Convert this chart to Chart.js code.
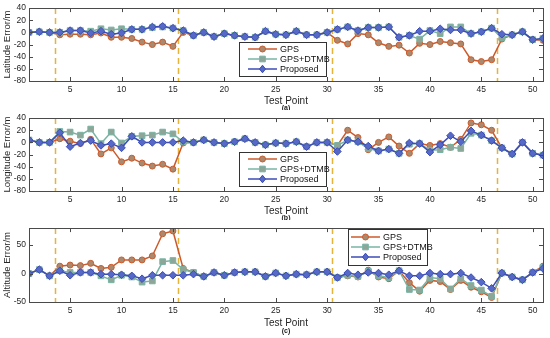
<!DOCTYPE html>
<html><head><meta charset="utf-8">
<script src="https://cdn.jsdelivr.net/npm/chart.js@4.4.1/dist/chart.umd.min.js"></script>
<style>
html,body{margin:0;padding:0;background:#fff;width:550px;height:338px;overflow:hidden}
canvas{position:absolute;left:0}
</style></head><body>
<canvas id="c1" width="550" height="110" style="top:0;width:550px;height:110px"></canvas>
<canvas id="c2" width="550" height="110" style="top:110px;width:550px;height:110px"></canvas>
<canvas id="c3" width="550" height="118" style="top:220px;width:550px;height:118px"></canvas>
<script>
// ---------------- data ----------------
const testPoints = [1,2,3,4,5,6,7,8,9,10,11,12,13,14,15,16,17,18,19,20,21,22,23,24,25,26,27,28,29,30,31,32,33,34,35,36,37,38,39,40,41,42,43,44,45,46,47,48,49,50,51];
const xTickValues = [5,10,15,20,25,30,35,40,45,50];
const segmentBreaks = [3.5, 15.5, 30.5, 46.5];
const seriesNames = ['GPS', 'GPS+DTMB', 'Proposed'];

const latGPS  = [0,1,0,-4,-3,-3,-4,-1,-8,-8,-10,-16,-20,-16,-23,0,-5,0,-7,-2,-5,-7,-8,2,-3,-4,2,-4,-4,0,-13,-19,-2,-4,-17,-23,-21,-34,-18,-20,-15,-17,-19,-45,-48,-45,-11,-4,1,-12,-13];
const latDTMB = [0,1,0,0,3,3,2,6,4,6,5,5,8,9,7,3,-5,0,-7,-2,-5,-7,-8,2,-3,-4,2,-4,-4,0,5,9,3,8,8,9,-8,-5,-11,3,-2,9,9,-2,1,7,-9,-4,1,-12,-10];
const latProp = [0,1,0,0,3,3,-1,2,-3,-1,5,5,9,10,7,3,-5,0,-7,-2,-5,-7,-8,2,-3,-4,2,-4,-4,0,5,9,3,8,8,9,-8,-5,2,2,6,4,4,-2,1,7,-3,-4,1,-12,-10];
const latTicks = [-80,-60,-40,-20,0,20,40];

const lonGPS  = [4,0,0,6,2,-2,5,-19,-9,-32,-26,-34,-39,-36,-44,-1,0,4,0,-2,1,6,0,-4,-1,-2,1,-7,0,0,-5,20,8,-12,0,9,-6,-18,-2,-5,-2,-8,5,32,29,20,-9,-19,0,-18,-21];
const lonDTMB = [4,0,0,18,17,12,22,-2,17,-1,10,11,12,17,14,1,0,4,0,-2,1,6,0,-4,-1,-2,1,-7,0,0,-5,4,1,-10,-14,-11,-18,-3,-2,-13,-12,-8,-10,15,12,3,-9,-19,0,-18,-21];
const lonProp = [4,0,0,16,-7,-1,3,-5,-2,-9,10,0,0,0,0,3,0,4,0,-2,1,6,0,-4,-1,-2,1,-7,0,0,-15,4,1,-6,-14,-11,-18,-1,-2,-16,-4,11,1,19,12,3,-9,-19,0,-18,-21];
const lonTicks = [-80,-60,-40,-20,0,20,40];

const altGPS  = [0,7,-4,13,15,14,18,9,11,24,24,24,31,70,75,9,2,-5,2,-3,2,3,3,-5,1,-4,-1,-2,3,3,-7,-4,-6,6,-6,-9,5,-16,-31,-12,-14,-28,-12,-24,-32,-42,1,-6,-11,2,13];
const altDTMB = [0,7,-4,5,2,2,2,-4,-11,-3,-6,-15,-13,21,23,7,2,-5,2,-3,2,3,3,-5,1,-4,-1,-2,3,3,-7,-3,-5,4,-4,-7,5,-28,-29,-7,-9,-27,-9,-21,-29,-40,1,-6,-11,2,11];
const altProp = [0,7,-4,5,-3,2,2,-1,-1,-2,-4,-9,-3,-3,-3,-3,-1,-5,2,-3,2,3,3,-5,1,-4,-1,-2,3,3,-7,1,-2,2,1,-2,5,-4,-4,1,-1,-1,1,-7,-15,-26,1,-6,-11,2,9];
const altTicks = [-50,0,50];

// ---------------- styling ----------------
const FONT = "'Liberation Sans', Arial, sans-serif";
const styles = [
  {line:'#CC5A2B', fill:'#A98A6E', shape:'circle', r:3},
  {line:'#78B4A4', fill:'#8EA597', shape:'rect', r:4},
  {line:'#3C4DB6', fill:'#5669C6', shape:'rectRot', r:3.8}
];

function marker(ctx, shape, x, y, r, fill, stroke){
  ctx.beginPath();
  if(shape==='circle'){ ctx.arc(x,y,r,0,Math.PI*2); }
  else if(shape==='rect'){ const s=r*Math.SQRT1_2; ctx.rect(x-s,y-s,2*s,2*s); }
  else { ctx.moveTo(x,y-r); ctx.lineTo(x+r*0.8,y); ctx.lineTo(x,y+r); ctx.lineTo(x-r*0.8,y); ctx.closePath(); }
  ctx.fillStyle=fill; ctx.fill();
  ctx.lineWidth=1; ctx.strokeStyle=stroke; ctx.stroke();
}

function makeChart(id, cfg){
  const ds = [cfg.gps, cfg.dtmb, cfg.prop].map((vals,i)=>({
    label: seriesNames[i],
    data: testPoints.map((x,k)=>({x:x, y:vals[k]})),
    borderColor: styles[i].line,
    backgroundColor: styles[i].fill,
    pointBorderColor: styles[i].line,
    pointBackgroundColor: styles[i].fill,
    pointStyle: styles[i].shape,
    pointRadius: styles[i].r,
    pointBorderWidth: 1,
    borderWidth: 1.5,
    order: 3-i,
    tension: 0
  }));
  const deco = {
    id:'deco'+id,
    beforeDatasetsDraw(chart){
      const {ctx, chartArea:a, scales:{x}} = chart;
      ctx.save();
      ctx.strokeStyle='#E5B43A'; ctx.lineWidth=1.5; ctx.setLineDash([6,4]);
      segmentBreaks.forEach(v=>{
        const px=Math.round(x.getPixelForValue(v))+0.5;
        ctx.beginPath(); ctx.moveTo(px,a.top); ctx.lineTo(px,a.bottom); ctx.stroke();
      });
      ctx.restore();
    },
    afterDraw(chart){
      const {ctx, chartArea:a, scales:{x,y}} = chart;
      ctx.save();
      ctx.strokeStyle='#4a4a4a'; ctx.lineWidth=1;
      ctx.strokeRect(Math.round(a.left)+0.5, Math.round(a.top)+0.5, Math.round(a.right-a.left), Math.round(a.bottom-a.top));
      const tl=4;
      ctx.beginPath();
      xTickValues.forEach(v=>{
        const px=Math.round(x.getPixelForValue(v))+0.5;
        ctx.moveTo(px,a.bottom); ctx.lineTo(px,a.bottom-tl);
        ctx.moveTo(px,a.top); ctx.lineTo(px,a.top+tl);
      });
      cfg.ticks.forEach(v=>{
        const py=Math.round(y.getPixelForValue(v))+0.5;
        ctx.moveTo(a.left,py); ctx.lineTo(a.left+tl,py);
        ctx.moveTo(a.right,py); ctx.lineTo(a.right-tl,py);
      });
      ctx.stroke();
      // legend
      const L=cfg.legend;
      ctx.fillStyle='#fff'; ctx.fillRect(L.x,L.y,L.w,L.h);
      ctx.strokeStyle='#333'; ctx.strokeRect(L.x+0.5,L.y+0.5,L.w,L.h);
      seriesNames.forEach((name,i)=>{
        const ry=L.y+L.row0+i*L.dy;
        ctx.strokeStyle=styles[i].line; ctx.lineWidth=1.5;
        ctx.beginPath(); ctx.moveTo(L.x+L.l0,ry); ctx.lineTo(L.x+L.l1,ry); ctx.stroke();
        marker(ctx, styles[i].shape, L.x+(L.l0+L.l1)/2, ry, styles[i].r, styles[i].fill, styles[i].line);
        ctx.fillStyle='#111'; ctx.font='9px '+FONT; ctx.textBaseline='middle'; ctx.textAlign='left';
        ctx.fillText(name, L.x+L.tx, ry+0.5);
      });
      // panel label
      ctx.fillStyle='#222'; ctx.font='bold 7px '+FONT; ctx.textAlign='center'; ctx.textBaseline='middle';
      ctx.fillText(cfg.panel, (a.left+a.right)/2, cfg.panelY);
      ctx.restore();
    }
  };
  return new Chart(document.getElementById(id), {
    type:'line',
    data:{datasets:ds},
    options:{
      responsive:false, animation:false, devicePixelRatio:1,
      layout:{padding:{top:cfg.padTop, right:7, left:0, bottom:0}},
      plugins:{legend:{display:false}, tooltip:{enabled:false}},
      elements:{line:{fill:false}},
      scales:{
        x:{type:'linear', min:1, max:51,
          afterBuildTicks:s=>{s.ticks=xTickValues.map(v=>({value:v}));},
          afterFit:s=>{s.height=cfg.xAxisH;},
          grid:{display:false, drawTicks:false}, border:{display:false},
          ticks:{font:{family:FONT,size:8.5}, color:'#262626', padding:4, maxRotation:0, autoSkip:false},
          title:{display:true, text:'Test Point', color:'#262626', font:{family:FONT,size:10}, padding:{top:0,bottom:cfg.titlePad}}
        },
        y:{type:'linear', min:cfg.yMin, max:cfg.yMax,
          afterBuildTicks:s=>{s.ticks=cfg.ticks.map(v=>({value:v}));},
          afterFit:s=>{s.width=29;},
          grid:{display:false, drawTicks:false}, border:{display:false},
          ticks:{font:{family:FONT,size:8.5}, color:'#262626', padding:3, autoSkip:false},
          title:{display:true, text:cfg.yTitle, color:'#262626', font:{family:FONT,size:9.5}, padding:{top:2,bottom:0}}
        }
      }
    },
    plugins:[deco]
  });
}

makeChart('c1', {gps:latGPS, dtmb:latDTMB, prop:latProp, ticks:latTicks, yMin:-80, yMax:40,
  yTitle:'Latitude Error/m', panel:'(a)', panelY:108, padTop:7, xAxisH:29, titlePad:3,
  legend:{x:239,y:42,w:87,h:34,row0:7,dy:10,l0:9,l1:38,tx:41}});
makeChart('c2', {gps:lonGPS, dtmb:lonDTMB, prop:lonProp, ticks:lonTicks, yMin:-80, yMax:40,
  yTitle:'Longitude Error/m', panel:'(b)', panelY:108, padTop:7, xAxisH:29, titlePad:3,
  legend:{x:239,y:42,w:87,h:34,row0:7,dy:10,l0:9,l1:38,tx:41}});
makeChart('c3', {gps:altGPS, dtmb:altDTMB, prop:altProp, ticks:altTicks, yMin:-50, yMax:80,
  yTitle:'Altitude Error/m', panel:'(c)', panelY:111, padTop:8, xAxisH:36, titlePad:9,
  legend:{x:348,y:9,w:79,h:36,row0:8,dy:10,l0:3,l1:32,tx:35}});
</script>
</body></html>
